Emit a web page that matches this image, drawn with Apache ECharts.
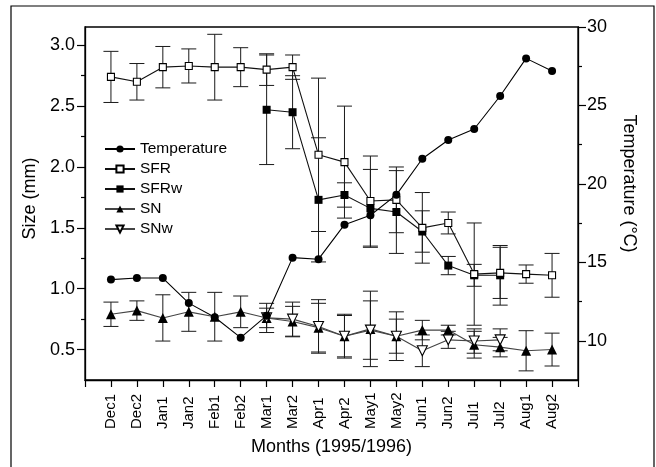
<!DOCTYPE html>
<html>
<head>
<meta charset="utf-8">
<script src="https://cdn.jsdelivr.net/npm/echarts@6/dist/echarts.min.js"></script>
<style>
  html, body { margin: 0; padding: 0; background: #fff; }
  #chart { width: 656px; height: 467px; }
</style>
</head>
<body>
<div id="chart"></div>
<script>
// Sampling periods (two per month, Dec 1995 – Aug 1996)
const months = ['Dec1','Dec2','Jan1','Jan2','Feb1','Feb2','Mar1','Mar2','Apr1','Apr2',
                'May1','May2','Jun1','Jun2','Jul1','Jul2','Aug1','Aug2'];

// Water temperature (°C), right axis
const temperature = [13.9, 14.0, 14.0, 12.4, 11.5, 10.2, 11.6, 15.3, 15.2, 17.4,
                     18.0, 19.3, 21.6, 22.8, 23.5, 25.6, 28.0, 27.2];

// Mean sizes (mm) with standard deviations, left axis
const sfr    = [2.74, 2.70, 2.82, 2.83, 2.82, 2.82, 2.80, 2.82, 2.10, 2.04,
                1.72, 1.73, 1.50, 1.54, 1.12, 1.13, 1.12, 1.11];
const sfrErr = [0.21, 0.15, 0.17, 0.14, 0.27, 0.16, 0.13, 0.10, 0.63, 0.46,
                0.37, 0.27, 0.29, 0.09, 0.42, 0.21, 0.075, 0.18];

const sfrw    = [null, null, null, null, null, null, 2.47, 2.45, 1.73, 1.77,
                 1.66, 1.63, 1.47, 1.19, 1.11, 1.11, null, null];
const sfrwErr = [null, null, null, null, null, null, 0.45, 0.30, 0.51, 0.10,
                 0.32, 0.34, 0.17, 0.075, 0.09, 0.245, null, null];

const sn    = [0.79, 0.82, 0.76, 0.81, 0.77, 0.81, 0.76, 0.73, 0.68, 0.61,
               0.67, 0.61, 0.66, 0.66, 0.54, 0.52, 0.49, 0.50];
const snErr = [0.10, 0.08, 0.19, 0.16, 0.20, 0.13, 0.12, 0.125, 0.20, 0.17,
               0.31, 0.20, 0.08, 0.04, 0.11, 0.08, 0.165, 0.135];

const snw    = [null, null, null, null, null, null, 0.76, 0.75, 0.69, 0.61,
                0.66, 0.61, 0.49, 0.58, 0.57, 0.58, null, null];
const snwErr = [null, null, null, null, null, null, 0.08, 0.14, 0.22, 0.18,
                0.24, 0.14, 0.13, 0.07, 0.10, 0.09, null, null];

// Axis ticks
const sizeTicks  = [0.5, 1.0, 1.5, 2.0, 2.5, 3.0];
const sizeMinor  = [0.75, 1.25, 1.75, 2.25, 2.75];
const tempTicks  = [10, 15, 20, 25, 30];
const tempMinor  = [12.5, 17.5, 22.5, 27.5];

const FONT = "'Liberation Sans', Arial, Helvetica, sans-serif";
const INK = '#000';

// Category axis padded with an empty slot on each side
const axisCats = [''].concat(months, ['']);

function points(values) {
  const out = [];
  values.forEach((v, i) => { if (v != null) out.push([i + 1, v]); });
  return out;
}

function errorBars(name, values, errs, yAxisIndex) {
  const data = [];
  values.forEach((v, i) => {
    if (v != null && errs[i] != null) data.push([i + 1, v - errs[i], v + errs[i]]);
  });
  return {
    type: 'custom',
    name: name,
    yAxisIndex: yAxisIndex,
    z: 1,
    silent: true,
    data: data,
    encode: { x: 0, y: [1, 2] },
    renderItem: function (params, api) {
      const x = api.value(0);
      const lo = api.coord([x, api.value(1)]);
      const hi = api.coord([x, api.value(2)]);
      const hw = 7.5;
      const style = { stroke: '#1a1a1a', lineWidth: 1 };
      return {
        type: 'group',
        children: [
          { type: 'line', shape: { x1: lo[0], y1: lo[1], x2: hi[0], y2: hi[1] }, style: style },
          { type: 'line', shape: { x1: lo[0] - hw, y1: lo[1], x2: lo[0] + hw, y2: lo[1] }, style: style },
          { type: 'line', shape: { x1: hi[0] - hw, y1: hi[1], x2: hi[0] + hw, y2: hi[1] }, style: style }
        ]
      };
    }
  };
}

function lineSeries(name, values, yAxisIndex, symbol, size, filled, lineColor, rotate) {
  return {
    type: 'line',
    name: name,
    yAxisIndex: yAxisIndex,
    z: 3,
    data: points(values),
    symbol: symbol,
    symbolSize: size,
    symbolRotate: rotate || 0,
    showAllSymbol: true,
    lineStyle: { color: lineColor, width: 1.1 },
    itemStyle: filled
      ? { color: INK, borderColor: INK, borderWidth: 0 }
      : { color: '#fff', borderColor: INK, borderWidth: 1.1 },
    emphasis: { disabled: true }
  };
}

const chart = echarts.init(document.getElementById('chart'), null, { renderer: 'canvas' });

chart.setOption({
  animation: false,
  backgroundColor: '#fff',
  textStyle: { fontFamily: FONT, color: INK },
  graphic: [{
    type: 'rect',
    shape: { x: 11, y: 6, width: 643, height: 462 },
    style: { fill: 'none', stroke: INK, lineWidth: 1.2 },
    silent: true,
    z: -1
  }],
  grid: {
    left: 85, right: 78, top: 27, bottom: 87,
    show: true, borderColor: INK, borderWidth: 1.3, backgroundColor: 'transparent'
  },
  legend: {
    orient: 'vertical',
    left: 99, top: 136,
    itemWidth: 30, itemHeight: 9, itemGap: 4,
    textStyle: { fontFamily: FONT, fontSize: 15.5, color: INK },
    data: ['Temperature', 'SFR', 'SFRw', 'SN', 'SNw'],
    selectedMode: false
  },
  xAxis: {
    type: 'category',
    data: axisCats,
    boundaryGap: false,
    axisLine: { lineStyle: { color: INK, width: 1.3 } },
    axisTick: { show: true, inside: false, length: 7, interval: 0, lineStyle: { color: INK, width: 1.2 } },
    axisLabel: {
      interval: 0, rotate: 90, align: 'left', margin: 49,
      fontFamily: FONT, fontSize: 15, color: INK
    },
    splitLine: { show: false },
    name: 'Months (1995/1996)',
    nameLocation: 'middle',
    nameGap: 58,
    nameTextStyle: { fontFamily: FONT, fontSize: 18, color: INK }
  },
  yAxis: [
    {
      type: 'value', position: 'left', min: 0.25, max: 3.15,
      axisLine: { show: true, lineStyle: { color: INK, width: 1.3 } },
      axisTick: { show: true, inside: false, length: 8, customValues: sizeTicks, lineStyle: { color: INK, width: 1.2 } },
      axisLabel: {
        customValues: sizeTicks, margin: 10,
        formatter: v => v.toFixed(1),
        fontFamily: FONT, fontSize: 18, color: INK
      },
      splitLine: { show: false },
      name: 'Size (mm)',
      nameLocation: 'middle',
      nameRotate: 90,
      nameGap: 46,
      nameTextStyle: { fontFamily: FONT, fontSize: 18, color: INK, padding: [0, 0, 0, 10] }
    },
    {
      type: 'value', position: 'right', min: 7.5, max: 30,
      axisLine: { show: true, lineStyle: { color: INK, width: 1.3 } },
      axisTick: { show: true, inside: false, length: 8, customValues: tempTicks, lineStyle: { color: INK, width: 1.2 } },
      axisLabel: {
        customValues: tempTicks, margin: 9,
        fontFamily: FONT, fontSize: 18, color: INK
      },
      splitLine: { show: false },
      name: 'Temperature (°C)',
      nameLocation: 'middle',
      nameRotate: -90,
      nameGap: 42,
      nameTextStyle: { fontFamily: FONT, fontSize: 18, color: INK, padding: [0, 40, 0, 0] }
    },
    {
      // minor ticks for the size axis
      type: 'value', position: 'left', min: 0.25, max: 3.15,
      axisLine: { show: false },
      axisTick: { show: true, inside: false, length: 4, customValues: sizeMinor, lineStyle: { color: INK, width: 1.2 } },
      axisLabel: { show: false },
      splitLine: { show: false }
    },
    {
      // minor ticks for the temperature axis
      type: 'value', position: 'right', min: 7.5, max: 30,
      axisLine: { show: false },
      axisTick: { show: true, inside: false, length: 4, customValues: tempMinor, lineStyle: { color: INK, width: 1.2 } },
      axisLabel: { show: false },
      splitLine: { show: false }
    }
  ],
  series: [
    errorBars('SFR sd', sfr, sfrErr, 0),
    errorBars('SFRw sd', sfrw, sfrwErr, 0),
    errorBars('SN sd', sn, snErr, 0),
    errorBars('SNw sd', snw, snwErr, 0),
    lineSeries('SN', sn, 0, 'triangle', 10, true, '#444'),
    lineSeries('SNw', snw, 0, 'triangle', 10, false, '#444', 180),
    lineSeries('SFRw', sfrw, 0, 'rect', 8, true, '#111'),
    lineSeries('SFR', sfr, 0, 'rect', 7, false, '#111'),
    lineSeries('Temperature', temperature, 1, 'circle', 8, true, '#000')
  ]
});
</script>
</body>
</html>
